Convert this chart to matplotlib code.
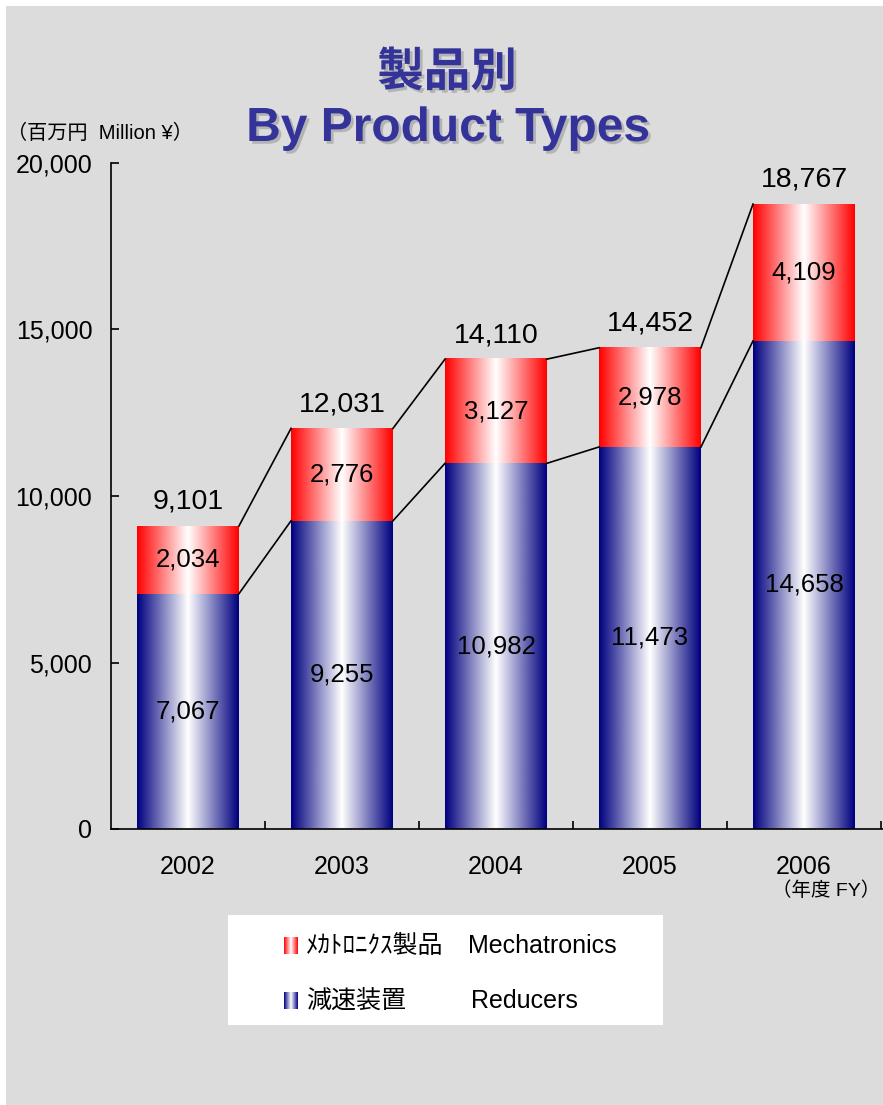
import numpy as np
import matplotlib
matplotlib.use('Agg')
import matplotlib.pyplot as plt
import matplotlib.patheffects as pe
from matplotlib.patches import Rectangle

years = ['2002', '2003', '2004', '2005', '2006']
reducers = [7067, 9255, 10982, 11473, 14658]
mechatronics = [2034, 2776, 3127, 2978, 4109]
totals = [9101, 12031, 14110, 14452, 18767]
yticks = [0, 5000, 10000, 15000, 20000]

RED = (1.0, 0.0, 0.0)
NAVY = (0.0, 0.0, 0.5)
BG = '#dcdcdc'
TITLE_C = '#333399'
LATIN = ['Liberation Sans', 'Noto Sans CJK JP']
CJK = ['Noto Sans CJK JP', 'Liberation Sans']

W, H = 883, 1105


def fx(x):
    return x / W


def fy(y):
    return 1 - y / H


def gradient(color, n=256):
    # colour at both edges, white in the middle
    t = np.linspace(0, 1, n)
    w = np.abs(2 * t - 1)
    rgb = (1 - w)[:, None] * np.ones(3) + w[:, None] * np.array(color)
    return rgb[None, :, :]


fig = plt.figure(figsize=(W / 100, H / 100), dpi=100)
fig.patch.set_facecolor('white')
fig.add_artist(Rectangle((fx(6), 0), 1, fy(6), transform=fig.transFigure,
                         facecolor=BG, edgecolor='none', zorder=-10))

# main axes, pixel layout
ax = fig.add_axes([fx(111), fy(829), 1 - fx(111), (829 - 163) / H])
ax.set_facecolor('none')
for s in ['top', 'right']:
    ax.spines[s].set_visible(False)
for s in ['left', 'bottom']:
    ax.spines[s].set_linewidth(1.2)
    ax.spines[s].set_zorder(5)

x = np.arange(len(years))
bw = 0.662
red_img = gradient(RED)
blue_img = gradient(NAVY)

for i in range(len(years)):
    ax.imshow(blue_img, extent=[x[i] - bw / 2, x[i] + bw / 2, 0, reducers[i]],
              aspect='auto', interpolation='bilinear', zorder=2)
    ax.imshow(red_img, extent=[x[i] - bw / 2, x[i] + bw / 2, reducers[i], totals[i]],
              aspect='auto', interpolation='bilinear', zorder=2)
    ax.text(x[i], reducers[i] / 2, f'{reducers[i]:,}', ha='center', va='center',
            fontsize=18.5, family=LATIN, zorder=4)
    ax.text(x[i], reducers[i] + mechatronics[i] / 2, f'{mechatronics[i]:,}',
            ha='center', va='center', fontsize=18.5, family=LATIN, zorder=4)
    ax.annotate(f'{totals[i]:,}', (x[i], totals[i]), xytext=(0, 8),
                textcoords='offset points', ha='center', va='bottom',
                fontsize=20.5, family=LATIN, zorder=4)

# connecting lines between bar tops
for i in range(len(years) - 1):
    for vals in (reducers, totals):
        ax.plot([x[i] + bw / 2, x[i + 1] - bw / 2], [vals[i], vals[i + 1]],
                color='black', lw=1.2, zorder=3)

ax.set_xlim(-0.5, -0.5 + (W - 111) / 154)
ax.set_ylim(0, 20000)

ax.set_yticks(yticks)
ax.set_yticklabels([f'{v:,}' for v in yticks], family=LATIN)
ax.tick_params(axis='y', direction='in', length=6, width=1.2, pad=13.5, labelsize=18)

ax.set_xticks(x + 0.5)
ax.set_xticklabels([])
ax.set_xticks(x, minor=True)
ax.set_xticklabels(years, minor=True, family=LATIN)
ax.tick_params(axis='x', which='major', direction='in', length=6, width=1.2)
ax.tick_params(axis='x', which='minor', length=0, pad=19, labelsize=18)

# titles and axis notes
shadow = [pe.withSimplePatchShadow(offset=(2, -2), shadow_rgbFace='#999999', alpha=0.6)]
fig.text(fx(447), fy(72), '製品別', ha='center', va='center', fontsize=33.5,
         fontweight='bold', color=TITLE_C, family=CJK, path_effects=shadow)
fig.text(fx(448), fy(141), 'By Product Types', ha='center', va='baseline',
         fontsize=34.5, fontweight='bold', color=TITLE_C, family=LATIN,
         path_effects=shadow)
fig.text(fx(7), fy(133), '（百万円  Million ¥）', ha='left', va='center',
         fontsize=14.5, family=LATIN)
fig.text(fx(880), fy(891), '（年度 FY）', ha='right', va='center',
         fontsize=14, family=LATIN)

# legend box
fig.add_artist(Rectangle((fx(228), fy(1025)), (663 - 228) / W, (1025 - 915) / H,
                         transform=fig.transFigure, facecolor='white',
                         edgecolor='none', zorder=1))
legend_rows = [(red_img, 946, 'ﾒｶﾄﾛﾆｸｽ製品', 'Mechatronics', 468),
               (blue_img, 1001, '減速装置', 'Reducers', 471)]
for img, yc, jp, en, ex in legend_rows:
    sw = fig.add_axes([fx(284), fy(yc + 8), 14 / W, 17 / H])
    sw.set_zorder(5)
    sw.imshow(img, aspect='auto', interpolation='bilinear')
    sw.axis('off')
    fig.text(fx(306), fy(yc), jp, ha='left', va='center', fontsize=18,
             family=CJK, zorder=3)
    fig.text(fx(ex), fy(yc), en, ha='left', va='center', fontsize=18,
             family=LATIN, zorder=3)

fig.savefig('out.png', dpi=100, facecolor=fig.get_facecolor())
